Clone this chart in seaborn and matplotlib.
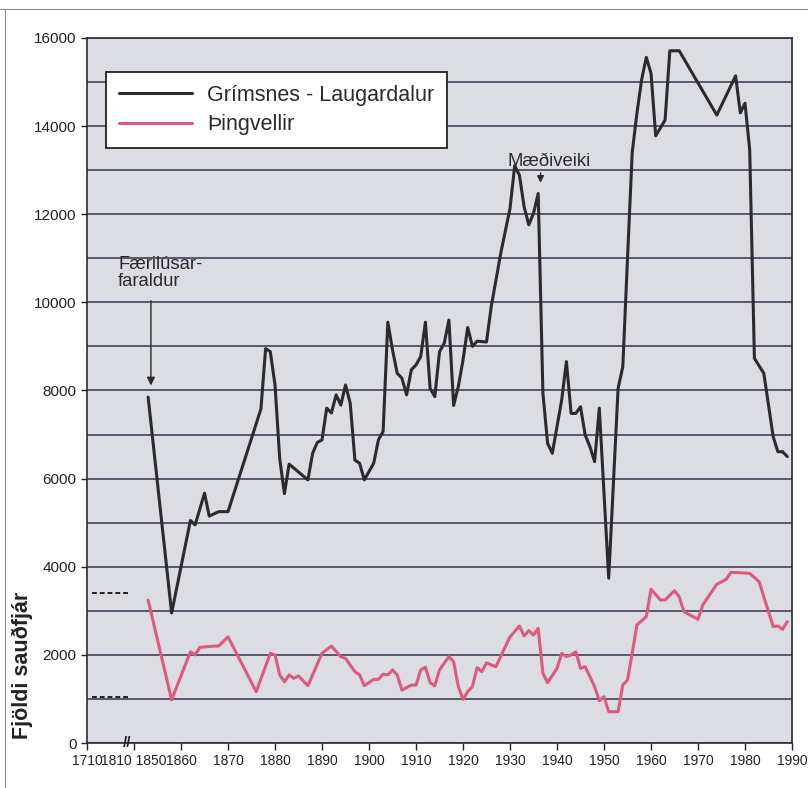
import matplotlib.pyplot as plt
import matplotlib.lines as mlines
import pandas as pd
import seaborn as sns

# === values ===
grimsnes_years = [1853, 1858, 1862, 1863, 1865, 1866, 1868, 1870, 1877, 1878,
                  1879, 1880, 1881, 1882, 1883, 1887, 1888, 1889, 1890, 1891,
                  1892, 1893, 1894, 1895, 1896, 1897, 1898, 1899, 1901, 1902,
                  1903, 1904, 1905, 1906, 1907, 1908, 1909, 1910, 1911, 1912,
                  1913, 1914, 1915, 1916, 1917, 1918, 1919, 1920, 1921, 1922,
                  1923, 1925, 1926, 1927, 1928, 1930, 1931, 1932, 1933, 1934,
                  1935, 1936, 1937, 1938, 1939, 1941, 1942, 1943, 1944, 1945,
                  1946, 1947, 1948, 1949, 1951, 1953, 1954, 1955, 1956, 1957,
                  1958, 1959, 1960, 1961, 1963, 1964, 1966, 1974, 1978, 1979,
                  1980, 1981, 1982, 1984, 1986, 1987, 1988, 1989]
grimsnes_sheep = [7850, 2950, 5050, 4950, 5670, 5150, 5250, 5250, 7580, 8950,
                  8880, 8125, 6450, 5660, 6330, 5970, 6575, 6820, 6880, 7600,
                  7490, 7900, 7670, 8125, 7710, 6420, 6350, 5970, 6350, 6880,
                  7070, 9550, 8920, 8390, 8280, 7900, 8470, 8580, 8770, 9550,
                  8050, 7860, 8880, 9070, 9600, 7660, 8090, 8690, 9430, 9000,
                  9120, 9100, 9900, 10500, 11100, 12130, 13100, 12890, 12170, 11760,
                  12020, 12470, 7940, 6800, 6575, 7785, 8655, 7480, 7480, 7630,
                  6990, 6725, 6385, 7600, 3740, 8050, 8540, 11000, 13400, 14290,
                  15050, 15560, 15200, 13780, 14140, 15710, 15710, 14250, 15140, 14300,
                  14520, 13460, 8730, 8390, 6950, 6610, 6610, 6500]

thingvellir_years = [1853, 1858, 1862, 1863, 1864, 1867, 1868, 1870, 1876, 1879,
                     1880, 1881, 1882, 1883, 1884, 1885, 1887, 1890, 1892, 1894,
                     1895, 1897, 1898, 1899, 1901, 1902, 1903, 1904, 1905, 1906,
                     1907, 1909, 1910, 1911, 1912, 1913, 1914, 1915, 1917, 1918,
                     1919, 1920, 1921, 1922, 1923, 1924, 1925, 1927, 1928, 1930,
                     1932, 1933, 1934, 1935, 1936, 1937, 1938, 1940, 1941, 1942,
                     1943, 1944, 1945, 1946, 1948, 1949, 1950, 1951, 1953, 1954,
                     1955, 1956, 1957, 1959, 1960, 1962, 1963, 1965, 1966, 1967,
                     1970, 1971, 1974, 1976, 1977, 1981, 1983, 1986, 1987, 1988,
                     1989]
thingvellir_sheep = [3245, 980, 2070, 2000, 2170, 2200, 2200, 2410, 1165, 2035,
                     2000, 1545, 1390, 1545, 1470, 1520, 1300, 2035, 2200, 1960,
                     1920, 1620, 1545, 1300, 1445, 1445, 1560, 1545, 1660, 1545,
                     1200, 1315, 1315, 1660, 1720, 1370, 1300, 1660, 1960, 1845,
                     1280, 990, 1165, 1280, 1710, 1620, 1820, 1730, 1960, 2410,
                     2655, 2430, 2550, 2450, 2600, 1580, 1370, 1695, 2035, 1960,
                     2000, 2070, 1695, 1730, 1280, 960, 1050, 710, 710, 1316,
                     1430, 2035, 2680, 2870, 3490, 3246, 3246, 3457, 3321, 2980,
                     2807, 3132, 3602, 3715, 3874, 3851, 3661, 2640, 2656, 2580,
                     2754]

# 1710 census, drawn as short dashes left of the axis break
census_1710 = [3400, 1050]

area_names = ["Grímsnes - Laugardalur", "Þingvellir"]
tick_years = [1840, 1850, 1860, 1870, 1880, 1890, 1900, 1910, 1920, 1930,
              1940, 1950, 1960, 1970, 1980, 1990]
tick_labels = ["1710", "1810 1850", "1860", "1870", "1880", "1890", "1900",
               "1910", "1920", "1930", "1940", "1950", "1960", "1970", "1980", "1990"]

df = pd.concat([
    pd.DataFrame({"year": grimsnes_years, "sheep": grimsnes_sheep, "area": area_names[0]}),
    pd.DataFrame({"year": thingvellir_years, "sheep": thingvellir_sheep, "area": area_names[1]}),
])

# === plot ===
sns.set_style("ticks")
plt.rcParams["font.family"] = ["Liberation Sans", "DejaVu Sans"]

fig, ax = plt.subplots(figsize=(8.08, 7.88), dpi=100)
fig.subplots_adjust(left=0.1077, right=0.9802, bottom=0.0571, top=0.9518)

sns.lineplot(data=df, x="year", y="sheep", hue="area", hue_order=area_names,
             palette=["#2b2b2b", "#dc5a7c"], estimator=None, sort=False,
             linewidth=2.2, ax=ax)

ax.set_facecolor("#dcdce3")
ax.set_xlim(1840, 1990)
ax.set_ylim(0, 16000)
ax.set_xticks(tick_years)
ax.set_xticklabels(tick_labels, fontsize=10, color="#222")
ax.set_yticks(range(0, 16001, 2000))
ax.set_yticks(range(1000, 16000, 2000), minor=True)
ax.tick_params(axis="y", labelsize=11, length=4, width=1, color="#222", labelcolor="#222")
ax.tick_params(axis="y", which="minor", length=0)
ax.tick_params(axis="x", length=5, width=1, color="#222", pad=3)
ax.grid(axis="y", which="both", color="#34344e", linewidth=1.1)
ax.set_axisbelow(True)
for side in ax.spines.values():
    side.set_visible(True)
    side.set_color("#2a2a3a")
    side.set_linewidth(1.2)

ax.set_xlabel("")
ax.set_ylabel("Fjöldi sauðfjár", fontsize=15.5, fontweight="bold", color="#222")
ax.yaxis.set_label_coords(-0.077, 0.11)

# 1710 values and the axis break
ax.hlines(census_1710, 1841, 1849, colors="#222", linestyles=(0, (2.5, 1.5)), linewidth=1.4)
ax.text(1848.6, 0, "//", fontsize=11, fontweight="bold", ha="center", va="center",
        color="#222", clip_on=False)

# annotations
ax.text(1846.6, 11050, "Færilúsar-\nfaraldur", fontsize=13.3, va="top", ha="left",
        color="#2b2b2b", linespacing=1.0)
ax.annotate("", xy=(1853.6, 8050), xytext=(1853.6, 10100),
            arrowprops=dict(arrowstyle="-|>", color="#2b2b2b", lw=1, mutation_scale=12))
ax.text(1938.3, 13200, "Mæðiveiki", fontsize=13.3, va="center", ha="center", color="#2b2b2b")
ax.annotate("", xy=(1936.5, 12650), xytext=(1936.5, 13000),
            arrowprops=dict(arrowstyle="-|>", color="#2b2b2b", lw=1, mutation_scale=10))

handles, labels = ax.get_legend_handles_labels()
leg = ax.legend(handles, labels, loc="upper left", bbox_to_anchor=(0.027, 0.952),
                borderaxespad=0, frameon=True, fancybox=False, framealpha=1,
                facecolor="white", edgecolor="#222", fontsize=15.5,
                handlelength=3.4, handletextpad=0.7, borderpad=0.6, labelspacing=0.4)
leg.get_frame().set_linewidth(1.3)
for t in leg.get_texts():
    t.set_color("#2b2b2b")

# scan frame lines
fig.add_artist(mlines.Line2D([0, 1], [0.989, 0.989], color="#8a8aa0", lw=0.8))
fig.add_artist(mlines.Line2D([0.0068, 0.0068], [0.0, 0.989], color="#8a8aa0", lw=0.8))

plt.savefig("out.png", dpi=100)
